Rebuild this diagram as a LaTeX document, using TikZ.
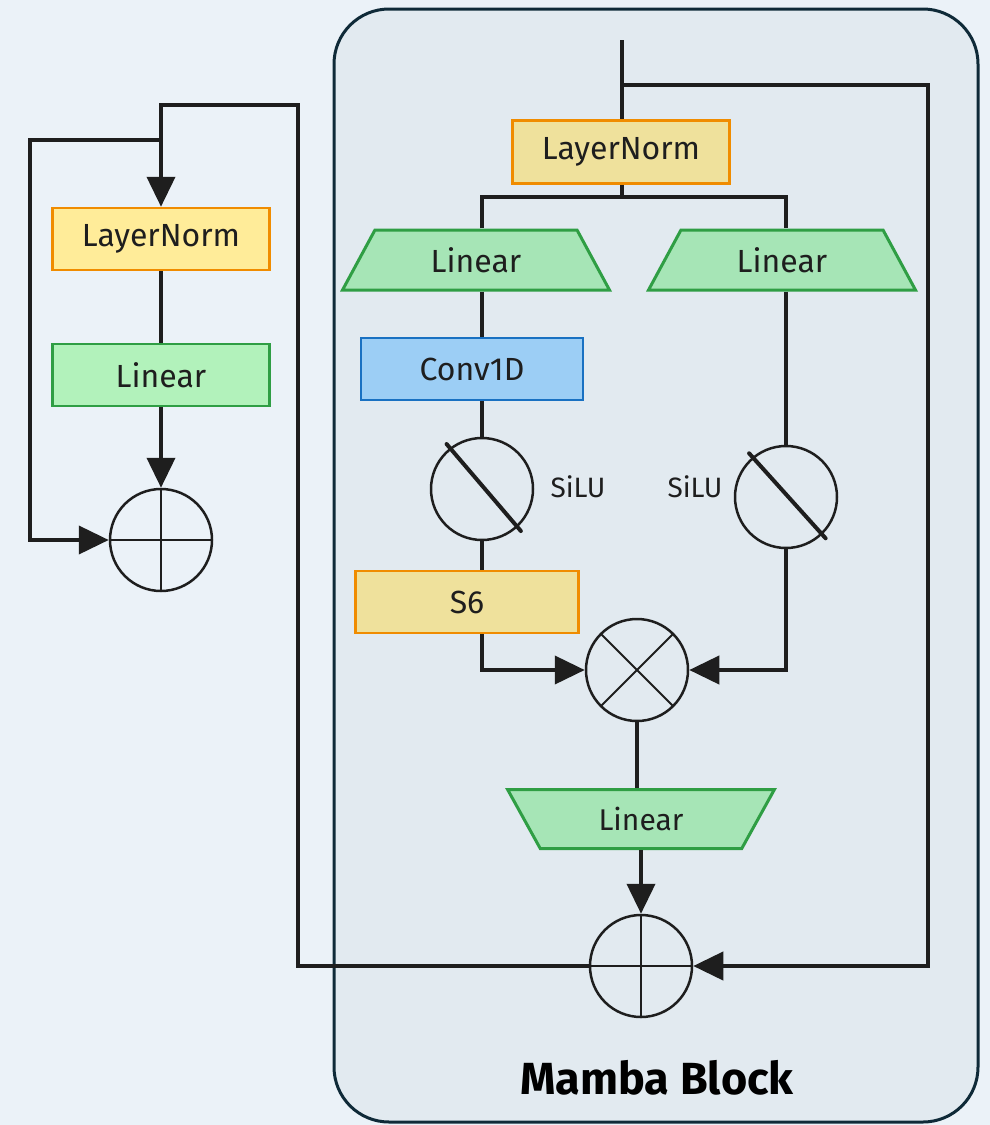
\documentclass[tikz,border=0pt]{standalone}
\usepackage{fontspec}
\setmainfont{Fira Sans}
\usetikzlibrary{arrows.meta,shapes.geometric}
\definecolor{inkblack}{HTML}{1E1E1E}
\definecolor{pagebg}{HTML}{EBF2F8}
\definecolor{blockbg}{HTML}{E2EAF0}
\definecolor{blockline}{HTML}{0F2A38}
\definecolor{normfill}{HTML}{FFEC99}
\definecolor{normfillb}{HTML}{EFE19C}
\definecolor{normdraw}{HTML}{F08C00}
\definecolor{linfill}{HTML}{B2F2BB}
\definecolor{linfillb}{HTML}{A6E5B6}
\definecolor{lindraw}{HTML}{2F9E44}
\definecolor{convfill}{HTML}{9CCEF5}
\definecolor{convdraw}{HTML}{1971C2}

\begin{document}
\begin{tikzpicture}[x=1pt,y=-1pt,
  line/.style={draw=inkblack,line width=4pt},
  arrow/.style={line,-{Triangle[length=30pt,width=28pt]}},
  box/.style={rectangle,line width=2.5pt,minimum width=217pt,minimum height=62pt,
    text=inkblack,font=\fontsize{32}{36}\selectfont},
  normbox/.style={box,fill=normfill,draw=normdraw},
  linbox/.style={box,fill=linfill,draw=lindraw},
  lintrap/.style={trapezium,trapezium angle=64,trapezium stretches=true,
    minimum width=267pt,minimum height=60pt,fill=linfillb,draw=lindraw,
    line width=3pt,text=inkblack,font=\fontsize{32}{36}\selectfont},
  opcircle/.style={circle,draw=inkblack,line width=2.5pt,minimum size=102pt,inner sep=0pt},
  addop/.style={opcircle,path picture={
    \draw[inkblack,line width=2pt]
      (path picture bounding box.north) -- (path picture bounding box.south)
      (path picture bounding box.west) -- (path picture bounding box.east);}},
  mulop/.style={opcircle,path picture={
    \draw[inkblack,line width=2pt]
      (path picture bounding box.north west) -- (path picture bounding box.south east)
      (path picture bounding box.north east) -- (path picture bounding box.south west);}},
  actlabel/.style={text=inkblack,font=\fontsize{28}{32}\selectfont}
]
  \fill[pagebg] (0,0) rectangle (990,1125);
  \useasboundingbox (0,0) rectangle (990,1125);
  \filldraw[fill=blockbg,draw=blockline,line width=3pt,rounded corners=55pt]
    (334,9) rectangle (978,1122);

  \node[normbox] (norm1) at (161,239) {LayerNorm};
  \node[linbox]  (lin1)  at (161,375) {Linear};
  \node[addop]   (add1)  at (161,540) {};

  \node[normbox,fill=normfillb,minimum height=63pt] (norm2) at (621,152) {LayerNorm};
  \node[lintrap] (lin2) at (476,260) {Linear};
  \node[lintrap] (lin3) at (782,260) {Linear};
  \node[box,fill=convfill,draw=convdraw,minimum width=222pt] (conv) at (472,369) {Conv1D};
  \node[opcircle] (silu1) at (482,489) {};
  \node[opcircle] (silu2) at (786,497) {};
  \node[actlabel] (silu1lab) at (578,487) {SiLU};
  \node[actlabel] (silu2lab) at (695,487) {SiLU};
  \node[normbox,fill=normfillb,minimum width=223pt] (s6) at (467,602) {S6};
  \node[mulop] (mul) at (637,670) {};
  \node[lintrap,trapezium angle=116,minimum height=59pt,font=\fontsize{30}{34}\selectfont]
    (lin4) at (641,819) {Linear};
  \node[addop] (add2) at (641,966) {};
  \node[text=black,font=\fontsize{45}{50}\selectfont\bfseries] (blocklab) at (657,1078) {Mamba Block};

  \draw[line,line cap=round,shorten <=-5pt,shorten >=-5pt] (silu1.128) -- (silu1.-47);
  \draw[line,line cap=round,shorten <=-5pt,shorten >=-5pt] (silu2.130) -- (silu2.-46);

  \coordinate (split1) at (161,140);
  \coordinate (in2) at (622,40);
  \coordinate (split2) at (622,197);
  \coordinate (split3) at (622,85);

  \draw[arrow] (add2.west) -| (298,105) -| (norm1.north);
  \draw[arrow] (split1) -- (30,140) |- (add1.west);
  \draw[line] (norm1) -- (lin1);
  \draw[arrow] (lin1) -- (add1);

  \draw[line] (in2) -- (in2 |- norm2.north);
  \draw[arrow] (split3) -- (928,85) |- (add2.east);
  \draw[line] (split2 |- norm2.south) -- (split2);
  \draw[line] (silu1 |- lin2.north) |- (split2) -| (silu2 |- lin3.north);
  \draw[line] (silu1 |- lin2.south) -- (silu1 |- conv.north);
  \draw[line] (silu1 |- conv.south) -- (silu1.north);
  \draw[line] (silu1.south) -- (silu1 |- s6.north);
  \draw[arrow] (silu1 |- s6.south) |- (mul.west);
  \draw[line] (silu2 |- lin3.south) -- (silu2.north);
  \draw[arrow] (silu2.south) |- (mul.east);
  \draw[line] (mul.south) -- (mul.south |- lin4.north);
  \draw[arrow] (add2 |- lin4.south) -- (add2.north);
\end{tikzpicture}
\end{document}
